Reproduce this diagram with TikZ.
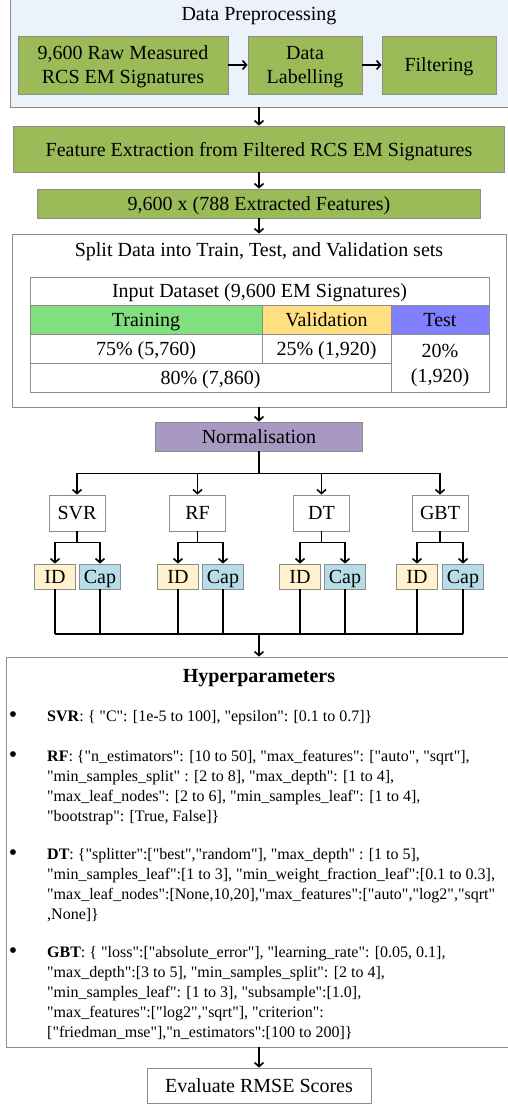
\documentclass[tikz,border=0pt]{standalone}
\usepackage{fontspec}
\setmainfont{Liberation Serif}[Ligatures=TeXOff]
\usetikzlibrary{arrows.meta}
\definecolor{prepbg}{HTML}{ECF2FA}
\definecolor{olive}{HTML}{9BBB59}
\definecolor{trainc}{HTML}{80E080}
\definecolor{valc}{HTML}{FFE080}
\definecolor{testc}{HTML}{8080FF}
\definecolor{normc}{HTML}{A899C2}
\definecolor{idc}{HTML}{FFF2CC}
\definecolor{capc}{HTML}{B7DDE8}
\definecolor{bord}{HTML}{8C8C8C}
\tikzset{
  x=1pt, y=-1pt,
  mainfont/.style={font=\fontsize{20}{24}\selectfont},
  box/.style={draw=bord, line width=0.8pt, inner sep=0pt, align=center, text depth=0pt, mainfont},
  greenbox/.style={box, fill=olive},
  cell/.style={draw=bord, line width=0.8pt, inner sep=0pt, align=center, text depth=0pt, font=\fontsize{20}{25}\selectfont},
  conn/.style={line width=1.8pt, black},
  arr/.style={conn, -{Straight Barb[length=4pt,width=9pt,line width=1.6pt]}},
  hline/.style={anchor=base west, inner sep=0pt, font=\fontsize{16}{20}\selectfont},
  bul/.style={anchor=base, inner sep=0pt, font=\fontsize{24}{20}\selectfont},
}
\begin{document}
\begin{tikzpicture}
\useasboundingbox (0,0) rectangle (507,1105);
% Data preprocessing
\node[draw=bord, fill=prepbg, line width=0.8pt, minimum width=498pt, minimum height=112pt, inner sep=0pt] (prep) at (259,51) {};
\node[mainfont, inner sep=0pt, text depth=0pt] (preptitle) at (259,14) {Data Preprocessing};
\node[greenbox, minimum width=210pt, minimum height=58pt] (raw) at (123,65) {9,600 Raw Measured\\RCS EM Signatures};
\node[greenbox, minimum width=114pt, minimum height=58pt] (lab) at (305,65) {Data\\Labelling};
\node[greenbox, minimum width=114pt, minimum height=58pt] (filt) at (439,65) {Filtering};
\draw[arr] (raw.east) -- (lab.west);
\draw[arr] (lab.east) -- (filt.west);
% features
\node[greenbox, minimum width=491pt, minimum height=46pt] (feat) at (259,149) {Feature Extraction from Filtered RCS EM Signatures};
\node[greenbox, minimum width=443pt, minimum height=29pt] (feat2) at (259,203.5) {9,600 x (788 Extracted Features)};
\draw[arr] (prep.south -| feat.north) -- (feat.north);
\draw[arr] (feat.south) -- (feat2.north);
% split
\node[draw=bord, line width=0.8pt, minimum width=494pt, minimum height=173pt, inner sep=0pt] (split) at (259,320.5) {};
\node[mainfont, inner sep=0pt, text depth=0pt] (splittitle) at (259,250) {Split Data into Train, Test, and Validation sets};
\draw[arr] (feat2.south) -- (split.north);
\node[cell, minimum width=459pt, minimum height=28pt] (inp) at (259.5,291) {Input Dataset (9,600 EM Signatures)};
\node[cell, fill=trainc, minimum width=232pt, minimum height=29pt] (tr) at (146,319.5) {Training};
\node[cell, fill=valc, minimum width=129pt, minimum height=29pt] (va) at (326.5,319.5) {Validation};
\node[cell, fill=testc, minimum width=98pt, minimum height=29pt] (te) at (440,319.5) {Test};
\node[cell, minimum width=232pt, minimum height=29pt] (p75) at (146,348.5) {75\% (5,760)};
\node[cell, minimum width=129pt, minimum height=29pt] (p25) at (326.5,348.5) {25\% (1,920)};
\node[cell, minimum width=98pt, minimum height=58pt] (p20) at (440,363) {20\%\\(1,920)};
\node[cell, minimum width=361pt, minimum height=29pt] (p80) at (210.5,377.5) {80\% (7,860)};
% normalisation
\node[box, fill=normc, minimum width=207pt, minimum height=29pt] (norm) at (259,436.5) {Normalisation};
\draw[arr] (split.south) -- (norm.north);
% models
\foreach \n/\t/\cx/\ix/\px in {svr/SVR/77/55/100, rf/RF/197.5/178/223, dt/DT/321.5/300/345, gbt/GBT/440/417/463}{
  \node[box, minimum width=56pt, minimum height=36pt] (\n) at (\cx,513) {\t};
  \node[box, fill=idc, minimum width=41pt, minimum height=25pt] (\n-id) at (\ix,576.5) {ID};
  \node[box, fill=capc, minimum width=41pt, minimum height=25pt] (\n-cap) at (\px,576.5) {Cap};
}
\draw[conn] (norm.south) -- ++(0,22) coordinate (nb);
\draw[conn] (svr.north |- nb) -- (gbt.north |- nb);
\foreach \n in {svr,rf,dt,gbt}{
  \draw[arr] (\n.north |- nb) -- (\n.north);
  \draw[conn] (\n.south) -- ++(0,11) coordinate (\n-b);
  \draw[conn] (\n-id.north |- \n-b) -- (\n-cap.north |- \n-b);
  \draw[arr] (\n-id.north |- \n-b) -- (\n-id.north);
  \draw[arr] (\n-cap.north |- \n-b) -- (\n-cap.north);
}
\coordinate (lb) at (259,634);
\foreach \n in {svr,rf,dt,gbt}{
  \draw[conn] (\n-id.south) -- (\n-id.south |- lb);
  \draw[conn] (\n-cap.south) -- (\n-cap.south |- lb);
}
\draw[conn] (svr-id.south |- lb) -- (gbt-cap.south |- lb);
% hyperparameters
\node[draw=bord, line width=0.8pt, minimum width=506pt, minimum height=390pt, inner sep=0pt] (hyp) at (259,852) {};
\draw[arr] (lb) -- (hyp.north);
\node[inner sep=0pt, text depth=0pt, font=\fontsize{20}{24}\selectfont\bfseries] (hyptitle) at (259,676) {Hyperparameters};
\node[bul] (b1) at (13,722) {•};
\node[hline] (s1) at (47,721) {\textbf{SVR}: \{ "C": [1e-5 to 100], "epsilon": [0.1 to 0.7]\}};
\node[bul] (b2) at (13,762) {•};
\node[hline] (r1) at (47,761) {\textbf{RF}: \{"n\_estimators": [10 to 50], "max\_features": ["auto", "sqrt"],};
\node[hline] (r2) at (47,781) {"min\_samples\_split" : [2 to 8], "max\_depth": [1 to 4],};
\node[hline] (r3) at (47,801) {"max\_leaf\_nodes": [2 to 6], "min\_samples\_leaf": [1 to 4],};
\node[hline] (r4) at (47,821) {"bootstrap": [True, False]\}};
\node[bul] (b3) at (13,860) {•};
\node[hline] (d1) at (47,859) {\textbf{DT}: \{"splitter":["best","random"], "max\_depth" : [1 to 5],};
\node[hline] (d2) at (47,879) {"min\_samples\_leaf":[1 to 3], "min\_weight\_fraction\_leaf":[0.1 to 0.3],};
\node[hline] (d3) at (47,899) {"max\_leaf\_nodes":[None,10,20],"max\_features":["auto","log2","sqrt"};
\node[hline] (d4) at (47,919) {,None]\}};
\node[bul] (b4) at (13,958) {•};
\node[hline] (g1) at (47,957) {\textbf{GBT}: \{ "loss":["absolute\_error"], "learning\_rate": [0.05, 0.1],};
\node[hline] (g2) at (47,977) {"max\_depth":[3 to 5], "min\_samples\_split": [2 to 4],};
\node[hline] (g3) at (47,997) {"min\_samples\_leaf": [1 to 3], "subsample":[1.0],};
\node[hline] (g4) at (47,1017) {"max\_features":["log2","sqrt"], "criterion":};
\node[hline] (g5) at (47,1037) {["friedman\_mse"],"n\_estimators":[100 to 200]\}};
% evaluate
\node[box, minimum width=224pt, minimum height=35pt] (eval) at (259,1085.5) {Evaluate RMSE Scores};
\draw[arr] (hyp.south) -- (eval.north);
\end{tikzpicture}
\end{document}
